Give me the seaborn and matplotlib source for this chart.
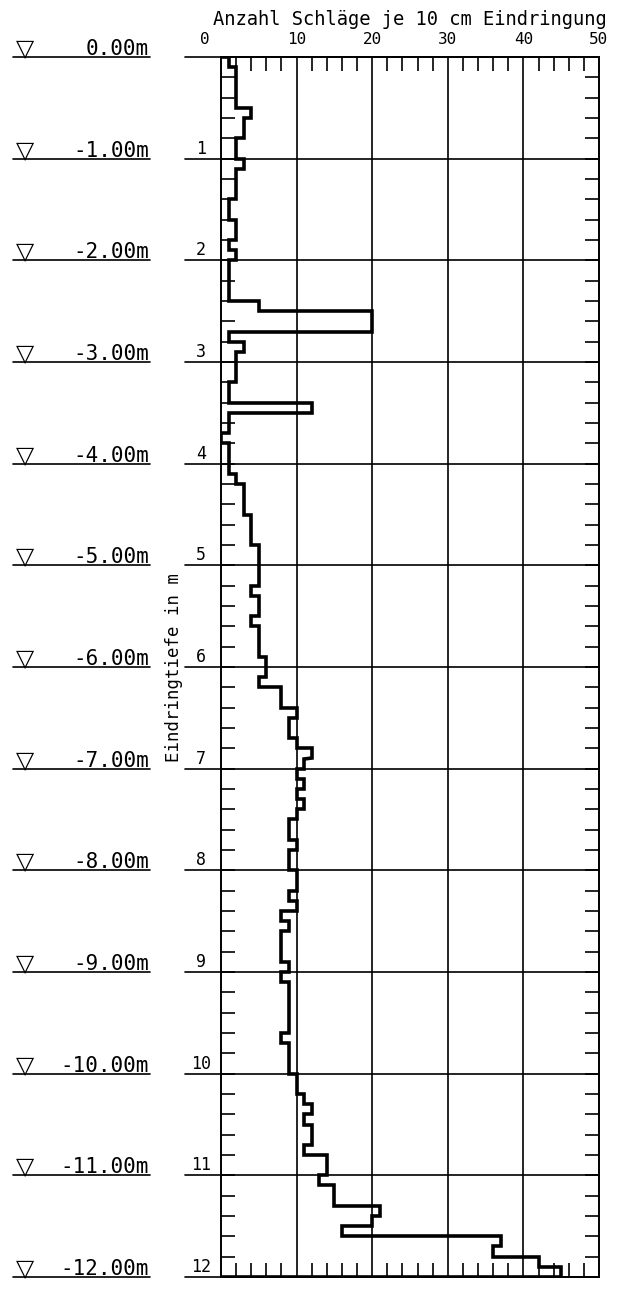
import numpy as np
import pandas as pd
import matplotlib
matplotlib.use('Agg')
import matplotlib.pyplot as plt
import matplotlib.transforms as mtransforms
from matplotlib.ticker import MultipleLocator, FixedLocator, NullLocator
import seaborn as sns

# Rammsondierung: Schlagzahlen je 10 cm, von 0.0 m bis 12.0 m Tiefe
blows = [1, 2, 2, 2, 2, 4, 3, 3, 2, 2,
         3, 2, 2, 2, 1, 1, 2, 2, 1, 2,
         1, 1, 1, 1, 5, 20, 20, 1, 3, 2,
         2, 2, 1, 1, 12, 1, 1, 0, 1, 1,
         1, 2, 3, 3, 3, 4, 4, 4, 5, 5,
         5, 5, 4, 5, 5, 4, 5, 5, 5, 6,
         6, 5, 8, 8, 10, 9, 9, 10, 12, 11,
         10, 11, 10, 11, 10, 9, 9, 10, 9, 9,
         10, 10, 9, 10, 8, 9, 8, 8, 8, 9,
         8, 9, 9, 9, 9, 9, 8, 9, 9, 9,
         10, 10, 11, 12, 11, 12, 12, 11, 14, 14,
         13, 15, 15, 21, 20, 16, 37, 36, 42, 45]
step = 0.1
depth_top = np.round(np.arange(len(blows)) * step, 1)

x_ticks = [0, 10, 20, 30, 40, 50]
x_tick_labels = ['0', '10', '20', '30', '40', '50']
depth_marks = [1, 2, 3, 4, 5, 6, 7, 8, 9, 10, 11, 12]
depth_labels = ['1', '2', '3', '4', '5', '6', '7', '8', '9', '10', '11', '12']
level_marks = [0, 1, 2, 3, 4, 5, 6, 7, 8, 9, 10, 11, 12]
level_labels = ['0.00m', '-1.00m', '-2.00m', '-3.00m', '-4.00m', '-5.00m', '-6.00m',
                '-7.00m', '-8.00m', '-9.00m', '-10.00m', '-11.00m', '-12.00m']

# Treppenlinie aus den Intervallen aufbauen
xs, ys = [0], [0.0]
for top, n in zip(depth_top, blows):
    xs += [n, n]
    ys += [top, top + step]
xs.append(0)
ys.append(depth_top[-1] + step)
outline = pd.DataFrame({'Schlaege': xs, 'Tiefe': ys})

sns.set_style('white')
mono = ['DejaVu Sans Mono', 'DejaVu Sans']
plt.rcParams['font.family'] = mono
plt.rcParams['text.color'] = 'black'
plt.rcParams['axes.labelcolor'] = 'black'

fig = plt.figure(figsize=(6.28, 12.93), dpi=100)
ax = fig.add_axes([221 / 628, 1 - 1277 / 1293, 378 / 628, 1220 / 1293])

sns.lineplot(data=outline, x='Schlaege', y='Tiefe', sort=False, estimator=None,
             color='black', lw=2.6, ax=ax, zorder=5, solid_joinstyle='miter')

ax.set_xlim(0, 50)
ax.set_ylim(12, 0)

for s in ax.spines.values():
    s.set_color('black')
    s.set_linewidth(1.4)

# x-Achse oben
ax.xaxis.tick_top()
ax.xaxis.set_label_position('top')
ax.xaxis.set_major_locator(FixedLocator(x_ticks))
ax.set_xticklabels(x_tick_labels)
ax.xaxis.set_minor_locator(MultipleLocator(2))
ax.tick_params(axis='x', which='major', length=0, pad=7, labelsize=11.5, labelcolor='black')
ax.tick_params(axis='x', which='minor', top=True, bottom=True, direction='in',
               length=10, width=1.2, color='black')
ax.set_xlabel('Anzahl Schläge je 10 cm Eindringung', fontsize=13.5, labelpad=5)
lbl0 = ax.get_xticklabels()[0]
lbl0.set_transform(lbl0.get_transform() + mtransforms.ScaledTranslation(-0.16, 0, fig.dpi_scale_trans))

# y-Achse
ax.yaxis.set_major_locator(NullLocator())
ax.yaxis.set_minor_locator(MultipleLocator(0.2))
ax.tick_params(axis='y', which='minor', left=True, right=True, direction='in',
               length=10, width=1.2, color='black')
ax.set_ylabel('Eindringtiefe in m', fontsize=12.5)
ax.yaxis.set_label_coords(-0.100, 0.5)

# Gitter
for xv in x_ticks[1:-1]:
    ax.axvline(xv, color='black', lw=1.2, zorder=1)
blend = mtransforms.blended_transform_factory(ax.transAxes, ax.transData)
for d in level_marks:
    ax.plot([-0.095, 1], [d, d], color='black', lw=1.2, transform=blend, clip_on=False, zorder=1)

# Tiefenzahlen links
for d, lab in zip(depth_marks, depth_labels):
    ax.text(-0.053, d - 0.05, lab, transform=blend, ha='center', va='baseline', fontsize=12)

# Höhenkoten
for d, lab in zip(level_marks, level_labels):
    ax.plot([-0.55, -0.188], [d, d], color='black', lw=1.2, transform=blend, clip_on=False)
    ax.text(-0.19, d - 0.02, lab, transform=blend, ha='right', va='baseline', fontsize=15)
    ax.text(-0.519, d - 0.01, '▽', transform=blend, ha='center', va='baseline',
            fontsize=17, family='DejaVu Sans')

fig.savefig('out.png', dpi=100)
